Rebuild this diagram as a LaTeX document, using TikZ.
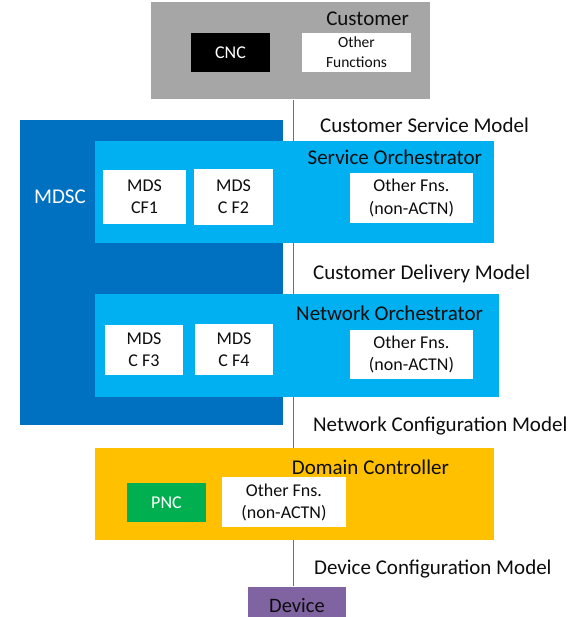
\documentclass[tikz,border=0pt]{standalone}
\usepackage{fontspec}
\setmainfont{Carlito}
\usetikzlibrary{backgrounds}
\definecolor{FontColor}{HTML}{0D0D0D}
\definecolor{GrayCu}{HTML}{A6A6A6}
\definecolor{DarkBlueMD}{HTML}{0070C0}
\definecolor{BlueOrch}{HTML}{00B0F0}
\definecolor{OrangeDC}{HTML}{FFC000}
\definecolor{GreenPNC}{HTML}{00B050}
\definecolor{PurpleDev}{HTML}{8064A2}
\definecolor{LinkBlue}{HTML}{4475C2}
\newcommand\nodecust{Customer}
\newcommand\nodemdsc{MDSC}
\newcommand\nodeso{Service Orchestrator}
\newcommand\nodeno{Network Orchestrator}
\newcommand\nodedc{Domain Controller}
\newcommand\nodeofn{Other Fns.\\(non-ACTN)}
\tikzstyle{mynodestyle} = [rectangle, inner sep=0pt, align=center, text=FontColor]
\tikzstyle{fb} = [mynodestyle, draw=none]
\tikzstyle{wb} = [mynodestyle, fill=white, font=\fontsize{18}{22}\selectfont]
\tikzstyle{ttl} = [inner sep=0pt, anchor=east, text=FontColor, font=\fontsize{21}{25}\selectfont]
\tikzstyle{mdl} = [inner sep=0pt, anchor=west, text=FontColor, font=\fontsize{21}{25}\selectfont]
\tikzset{every picture/.style={line width=2.2pt}}

\begin{document}
\begin{tikzpicture}[x=1pt, y=-1pt]
\useasboundingbox (0,0) rectangle (577,617);
\node[fb, fill=GrayCu, minimum width=279, minimum height=97] (cust) at (290.5, 50.5) {};
\node[ttl] (custt) at (410, 19) {\nodecust};
\node[fb, fill=black, text=white, font=\fontsize{18}{22}\selectfont, minimum width=79, minimum height=39] (cnc) at (230.5, 52.5) {CNC};
\node[wb, font=\fontsize{15.5}{20}\selectfont, minimum width=109, minimum height=39] (ofc) at (356.5, 52.5) {Other\\Functions};
\node[fb, fill=DarkBlueMD, minimum width=263, minimum height=305] (mdsc) at (151.5, 272.5) {};
\node[ttl, anchor=west, text=white] (mdsct) at (33, 197) {\nodemdsc};
\node[fb, fill=BlueOrch, minimum width=399, minimum height=102] (so) at (294.5, 192) {};
\node[ttl] (sot) at (483, 157) {\nodeso};
\node[wb, minimum width=83, minimum height=54] (cf1) at (144.5, 197) {MDS\\CF1};
\node[wb, minimum width=79, minimum height=56] (cf2) at (233.5, 197) {MDS\\C F2};
\node[wb, minimum width=123, minimum height=50] (ofso) at (411.5, 198) {\nodeofn};
\node[fb, fill=BlueOrch, minimum width=404, minimum height=103] (no) at (297, 345.5) {};
\node[ttl] (not) at (484, 313) {\nodeno};
\node[wb, minimum width=78, minimum height=50] (cf3) at (144, 350) {MDS\\C F3};
\node[wb, minimum width=78, minimum height=51] (cf4) at (234, 349.5) {MDS\\C F4};
\node[wb, minimum width=123, minimum height=49] (ofno) at (411.5, 354.5) {\nodeofn};
\node[fb, fill=OrangeDC, minimum width=399, minimum height=92] (dc) at (294.5, 494) {};
\node[ttl] (dct) at (450, 467) {\nodedc};
\node[fb, fill=GreenPNC, text=white, font=\fontsize{18}{22}\selectfont, minimum width=79, minimum height=39] (pnc) at (166.5, 502.5) {PNC};
\node[wb, minimum width=124, minimum height=50] (ofdc) at (284, 502) {\nodeofn};
\node[fb, fill=PurpleDev, font=\fontsize{20.5}{24}\selectfont, minimum width=98, minimum height=44] (dev) at (297, 609) {\raisebox{6.5pt}{Device}};
\node[mdl] (csm) at (319, 125) {Customer Service Model};
\node[mdl] (cdm) at (312, 274) {Customer Delivery Model};
\node[mdl] (ncm) at (312, 426) {Network Configuration Model};
\node[mdl] (dcm) at (313, 569) {Device Configuration Model};
\begin{scope}[on background layer]
\draw [LinkBlue] ([xshift=2.5pt]cust.south) -- ([xshift=-4pt]dev.north);
\end{scope}
\end{tikzpicture}
\end{document}
